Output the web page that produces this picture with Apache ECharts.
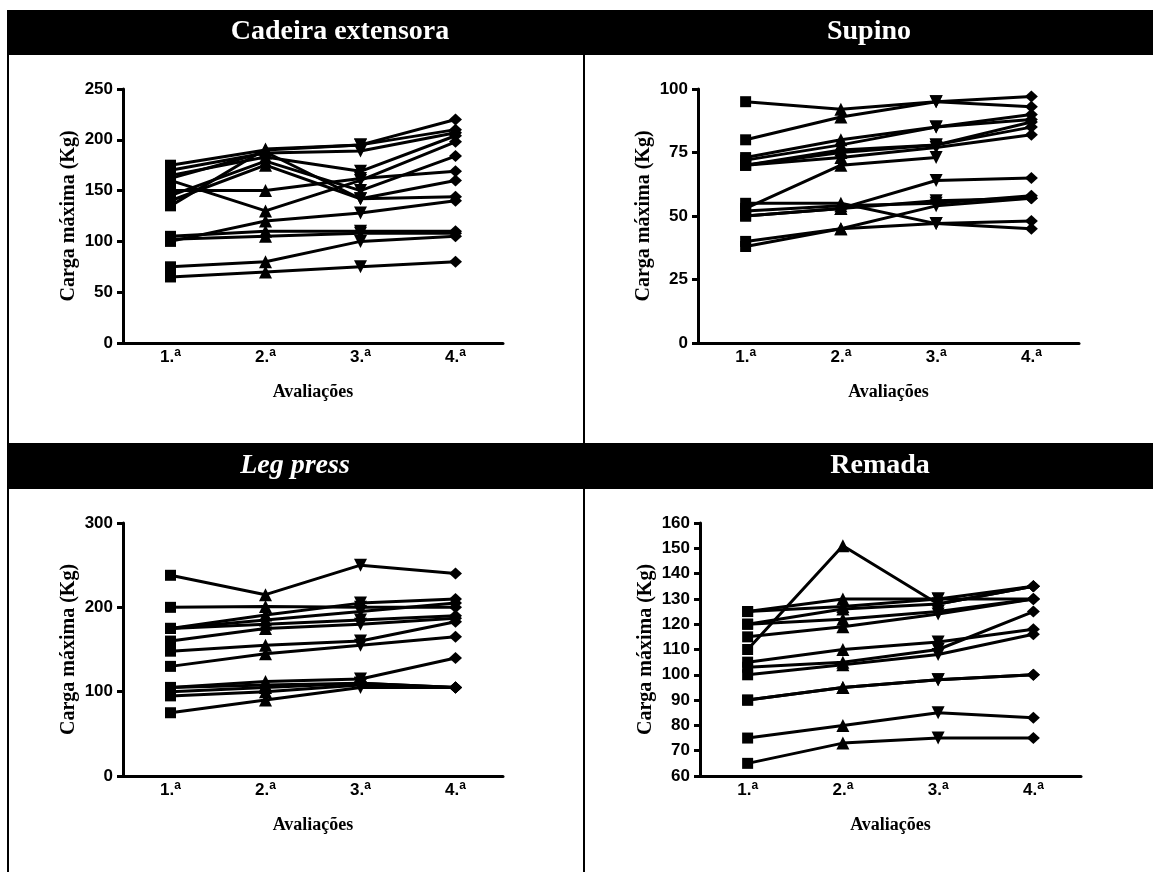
<!DOCTYPE html>
<html style="height: 100%">
<head>
    <meta charset="utf-8">
</head>
<body style="height: 100%; margin: 0; background: #fff">
<div id="container" style="width: 1153px; height: 872px"></div>

<script type="text/javascript" src="https://cdn.jsdelivr.net/npm/echarts@6/dist/echarts.min.js"></script>
<script type="text/javascript">
    // avaliações (eixo x)
    var categories = ['1.ª', '2.ª', '3.ª', '4.ª'];

    // uma linha por aluno, valores das 4 avaliações
    var cadeira = [
        [65, 70, 75, 80],
        [75, 80, 100, 105],
        [105, 110, 110, 110],
        [102, 105, 108, 108],
        [100, 120, 128, 140],
        [150, 150, 162, 169],
        [160, 130, 160, 198],
        [135, 191, 195, 220],
        [175, 190, 195, 210],
        [170, 187, 189, 207],
        [165, 183, 169, 204],
        [145, 179, 150, 184],
        [140, 175, 142, 144],
        [162, 188, 142, 160]
    ];
    var supino = [
        [95, 92, 95, 93],
        [80, 89, 95, 97],
        [73, 80, 85, 90],
        [72, 78, 85, 88],
        [70, 76, 78, 87],
        [70, 75, 78, 85],
        [70, 73, 77, 82],
        [53, 70, 73, null],
        [55, 55, 47, 45],
        [50, 53, 64, 65],
        [52, 54, 55, 58],
        [50, 53, 56, 57],
        [40, 45, 54, 57],
        [38, 45, 47, 48]
    ];
    var legPress = [
        [238, 215, 250, 240],
        [200, 201, 200, 200],
        [175, 191, 205, 210],
        [175, 185, 195, 205],
        [175, 180, 185, 190],
        [160, 175, 180, 187],
        [148, 155, 160, 183],
        [130, 145, 155, 165],
        [105, 112, 115, 140],
        [105, 108, 110, 105],
        [100, 105, 110, 105],
        [95, 100, 108, 105],
        [75, 90, 105, 105]
    ];
    var remada = [
        [110, 151, 128, 135],
        [125, 130, 130, 135],
        [125, 127, 130, 130],
        [120, 126, 128, 135],
        [120, 122, 125, 130],
        [115, 119, 124, 130],
        [105, 110, 113, 118],
        [103, 105, 110, 125],
        [100, 104, 108, 116],
        [90, 95, 98, 100],
        [90, 95, 98, 100],
        [75, 80, 85, 83],
        [65, 73, 75, 75]
    ];

    // marcas do eixo y
    var ticksCadeira = [0, 50, 100, 150, 200, 250];
    var ticksSupino = [0, 25, 50, 75, 100];
    var ticksLegPress = [0, 100, 200, 300];
    var ticksRemada = [60, 70, 80, 90, 100, 110, 120, 130, 140, 150, 160];

    var titles = ['Cadeira extensora', 'Supino', 'Leg press', 'Remada'];

    var panels = [
        {data: cadeira, ticks: ticksCadeira, grid: {left: 123, top: 89, width: 380, height: 254}},
        {data: supino, ticks: ticksSupino, grid: {left: 698, top: 89, width: 381, height: 254}},
        {data: legPress, ticks: ticksLegPress, grid: {left: 123, top: 523, width: 380, height: 253}},
        {data: remada, ticks: ticksRemada, grid: {left: 700, top: 523, width: 381, height: 253}}
    ];

    var symbols = ['rect', 'triangle', 'path://M0,0L2,0L1,2Z', 'diamond'];
    var symbolSizes = [11, 13, 13, [13, 12]];

    var dom = document.getElementById("container");
    var myChart = echarts.init(dom);

    var grid = [], xAxis = [], yAxis = [], series = [];
    panels.forEach(function (p, i) {
        grid.push(p.grid);
        xAxis.push({
            type: 'category',
            gridIndex: i,
            data: categories,
            name: 'Avaliações',
            nameLocation: 'middle',
            nameGap: 40,
            nameTextStyle: {fontFamily: 'Liberation Serif', fontWeight: 'bold', fontSize: 18, color: '#000'},
            axisLine: {onZero: false, lineStyle: {color: '#000', width: 3}},
            axisTick: {alignWithLabel: true, length: 6, lineStyle: {width: 3}},
            axisLabel: {
                margin: 4,
                formatter: function (v) {
                    return '{n|' + v.replace('ª', '') + '}{s|a}';
                },
                rich: {
                    n: {fontFamily: 'Liberation Sans', fontWeight: 'bold', fontSize: 17, color: '#000', lineHeight: 20},
                    s: {fontFamily: 'Liberation Sans', fontWeight: 'bold', fontSize: 12, color: '#000', lineHeight: 10, verticalAlign: 'top'}
                }
            }
        });
        yAxis.push({
            type: 'value',
            gridIndex: i,
            min: p.ticks[0],
            max: p.ticks[p.ticks.length - 1],
            interval: p.ticks[1] - p.ticks[0],
            name: 'Carga máxima (Kg)',
            nameLocation: 'middle',
            nameGap: 44,
            nameTextStyle: {fontFamily: 'Liberation Serif', fontWeight: 'bold', fontSize: 20, color: '#000'},
            axisLine: {show: true, lineStyle: {color: '#000', width: 3}},
            axisTick: {show: true, length: 6, lineStyle: {width: 3}},
            splitLine: {show: false},
            axisLabel: {margin: 10, fontFamily: 'Liberation Sans', fontWeight: 'bold', fontSize: 17, color: '#000'}
        });
        p.data.forEach(function (row) {
            series.push({
                type: 'line',
                xAxisIndex: i,
                yAxisIndex: i,
                data: row,
                symbol: function (v, params) { return symbols[params.dataIndex]; },
                symbolSize: function (v, params) { return symbolSizes[params.dataIndex]; },
                showAllSymbol: true,
                connectNulls: false,
                lineStyle: {color: '#000', width: 3},
                itemStyle: {color: '#000', borderWidth: 0},
                emphasis: {disabled: true}
            });
        });
    });

    var font = 'bold 28px "Liberation Serif"';
    var graphic = [
        {type: 'line', shape: {x1: 8, y1: 10, x2: 8, y2: 872}, style: {stroke: '#000', lineWidth: 2}},
        {type: 'line', shape: {x1: 584, y1: 10, x2: 584, y2: 872}, style: {stroke: '#000', lineWidth: 2}},
        {type: 'rect', shape: {x: 7, y: 10, width: 1146, height: 45}, style: {fill: '#000'}},
        {type: 'rect', shape: {x: 7, y: 443, width: 1146, height: 46}, style: {fill: '#000'}},
        {type: 'text', x: 340, y: 32, style: {text: titles[0], fill: '#fff', font: font, textAlign: 'center', textVerticalAlign: 'middle', align: 'center', verticalAlign: 'middle'}},
        {type: 'text', x: 869, y: 32, style: {text: titles[1], fill: '#fff', font: font, textAlign: 'center', textVerticalAlign: 'middle', align: 'center', verticalAlign: 'middle'}},
        {type: 'text', x: 295, y: 466, style: {text: titles[2], fill: '#fff', font: 'italic ' + font, textAlign: 'center', textVerticalAlign: 'middle', align: 'center', verticalAlign: 'middle'}},
        {type: 'text', x: 880, y: 466, style: {text: titles[3], fill: '#fff', font: font, textAlign: 'center', textVerticalAlign: 'middle', align: 'center', verticalAlign: 'middle'}}
    ];

    var option = {
        animation: false,
        backgroundColor: '#fff',
        graphic: graphic,
        grid: grid,
        xAxis: xAxis,
        yAxis: yAxis,
        series: series
    };

    if (option && typeof option === 'object') {
        myChart.setOption(option);
    }
</script>
</body>
</html>
